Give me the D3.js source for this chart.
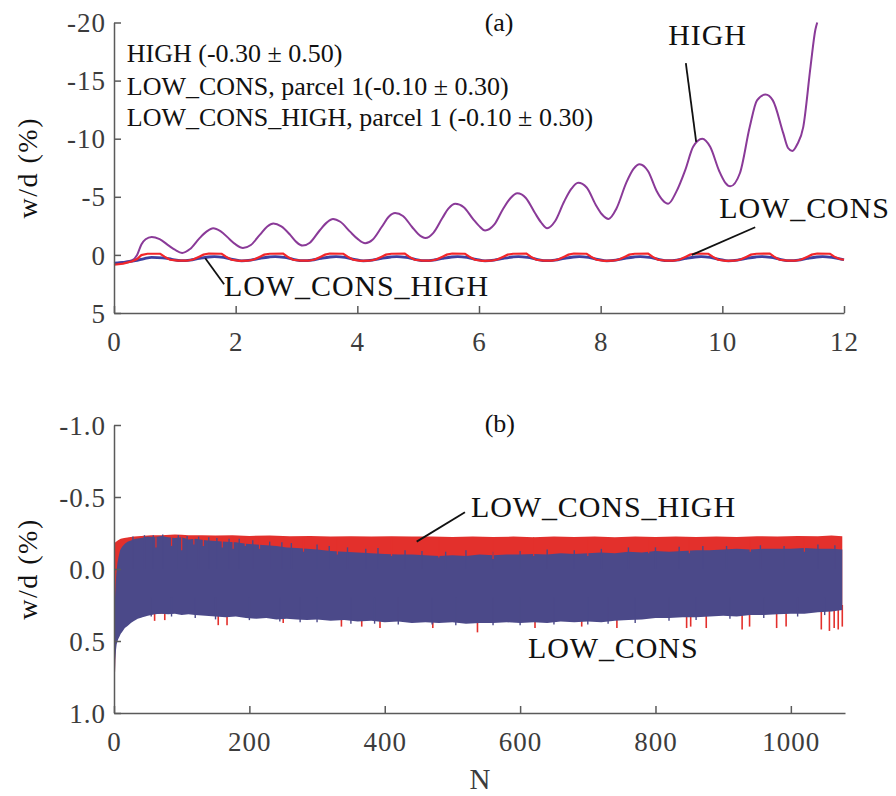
<!DOCTYPE html>
<html><head><meta charset="utf-8">
<script src="https://cdn.jsdelivr.net/npm/d3@7"></script>
<style>
body{margin:0;background:#fff}
svg{display:block}
text{font-family:"Liberation Serif","Times New Roman",Times,serif}
</style>
</head><body><svg id="c" width="896" height="796"></svg>
<script>
// ---------- Panel (a) data : x = time-like index, y = w/d (%) ----------
const aXTicks = [0, 2, 4, 6, 8, 10, 12];
const aYTicks = [-20, -15, -10, -5, 0, 5];
const high = [
[0,0.75],[0.15,0.62],[0.3,0.45],[0.38,0.0],[0.45,-0.9],[0.52,-1.35],[0.62,-1.55],[0.75,-1.35],[0.9,-0.8],[1.0,-0.45],[1.12,-0.17],
[1.25,-0.5],[1.4,-1.4],[1.52,-2.0],[1.63,-2.3],[1.75,-2.05],[1.9,-1.35],[2.0,-0.9],[2.12,-0.6],
[2.25,-0.85],[2.4,-1.75],[2.52,-2.45],[2.62,-2.7],[2.75,-2.45],[2.9,-1.7],[3.0,-1.1],[3.1,-0.8],
[3.22,-1.05],[3.38,-2.1],[3.5,-2.8],[3.6,-3.1],[3.72,-2.85],[3.88,-2.0],[4.0,-1.4],[4.13,-1.0],
[4.25,-1.3],[4.4,-2.4],[4.52,-3.3],[4.62,-3.6],[4.75,-3.35],[4.9,-2.4],[5.0,-1.8],[5.12,-1.45],
[5.25,-1.9],[5.4,-3.2],[5.5,-4.0],[5.61,-4.4],[5.75,-4.1],[5.9,-3.1],[6.0,-2.5],[6.1,-2.1],
[6.25,-2.6],[6.4,-4.0],[6.52,-4.9],[6.63,-5.3],[6.77,-4.9],[6.92,-3.6],[7.02,-2.8],[7.12,-2.3],
[7.25,-2.9],[7.4,-4.6],[7.52,-5.7],[7.63,-6.2],[7.77,-5.8],[7.92,-4.3],[8.02,-3.5],[8.13,-3.1],
[8.26,-4.0],[8.42,-6.2],[8.54,-7.4],[8.64,-7.8],[8.78,-7.2],[8.92,-5.5],[9.02,-4.7],[9.11,-4.4],
[9.24,-5.4],[9.39,-7.3],[9.52,-9.3],[9.67,-10.0],[9.8,-9.3],[9.95,-7.2],[10.05,-6.2],[10.13,-5.9],
[10.29,-7.05],[10.45,-11.0],[10.57,-13.3],[10.71,-13.8],[10.83,-13.3],[11.0,-10.5],[11.08,-9.2],[11.15,-8.95],
[11.23,-9.5],[11.33,-11.0],[11.45,-16.2],[11.53,-19.4],[11.56,-20.0]
];
const lowCons = [
[0,0.85],[0.15,0.75],[0.3,0.55],[0.38,0.35],[0.45,0.02],[0.55,-0.1],[0.76,-0.1],[0.83,0.15],[0.92,0.42],[1.05,0.5],
[1.2,0.5],[1.3,0.4],[1.4,0.15],[1.47,-0.02],[1.56,-0.12],[1.77,-0.1],[1.84,0.15],[1.93,0.42],[2.06,0.52],
[2.2,0.5],[2.3,0.4],[2.4,0.15],[2.47,-0.02],[2.56,-0.1],[2.78,-0.12],[2.85,0.15],[2.94,0.42],[3.07,0.5],
[3.2,0.5],[3.3,0.4],[3.4,0.15],[3.47,-0.02],[3.55,-0.12],[3.77,-0.1],[3.84,0.15],[3.93,0.42],[4.06,0.52],
[4.2,0.5],[4.3,0.4],[4.4,0.15],[4.47,-0.02],[4.56,-0.1],[4.78,-0.12],[4.85,0.15],[4.94,0.42],[5.07,0.5],
[5.2,0.5],[5.3,0.4],[5.4,0.15],[5.47,-0.02],[5.56,-0.12],[5.77,-0.1],[5.84,0.15],[5.93,0.42],[6.06,0.52],
[6.2,0.5],[6.3,0.4],[6.4,0.15],[6.47,-0.02],[6.56,-0.1],[6.78,-0.12],[6.85,0.15],[6.94,0.42],[7.07,0.5],
[7.2,0.5],[7.3,0.4],[7.4,0.15],[7.47,-0.02],[7.56,-0.12],[7.77,-0.1],[7.84,0.15],[7.93,0.42],[8.06,0.52],
[8.2,0.5],[8.3,0.4],[8.4,0.15],[8.47,-0.02],[8.56,-0.1],[8.78,-0.12],[8.85,0.15],[8.94,0.42],[9.07,0.5],
[9.2,0.5],[9.3,0.4],[9.4,0.15],[9.47,-0.02],[9.56,-0.12],[9.77,-0.1],[9.84,0.15],[9.93,0.42],[10.06,0.52],
[10.2,0.5],[10.3,0.4],[10.4,0.15],[10.47,-0.02],[10.56,-0.1],[10.78,-0.12],[10.85,0.15],[10.94,0.42],[11.07,0.5],
[11.2,0.5],[11.3,0.4],[11.4,0.15],[11.47,-0.02],[11.56,-0.12],[11.77,-0.1],[11.84,0.15],[11.93,0.35],[12.0,0.42]
];
const lowConsHigh = [
[0,0.7],[0.2,0.62],[0.35,0.5],[0.5,0.32],[0.62,0.22],[0.8,0.25],[0.95,0.38],[1.1,0.5],
[1.25,0.45],[1.4,0.3],[1.55,0.18],[1.65,0.15],[1.8,0.22],[1.95,0.38],[2.1,0.52],
[2.25,0.45],[2.4,0.3],[2.55,0.18],[2.65,0.14],[2.8,0.22],[2.95,0.38],[3.1,0.5],
[3.25,0.45],[3.4,0.3],[3.55,0.18],[3.65,0.15],[3.8,0.22],[3.95,0.38],[4.1,0.52],
[4.25,0.45],[4.4,0.3],[4.55,0.18],[4.65,0.14],[4.8,0.22],[4.95,0.38],[5.1,0.5],
[5.25,0.45],[5.4,0.3],[5.55,0.18],[5.65,0.15],[5.8,0.22],[5.95,0.38],[6.1,0.52],
[6.25,0.45],[6.4,0.3],[6.55,0.18],[6.65,0.14],[6.8,0.22],[6.95,0.38],[7.1,0.5],
[7.25,0.45],[7.4,0.3],[7.55,0.18],[7.65,0.15],[7.8,0.22],[7.95,0.38],[8.1,0.52],
[8.25,0.45],[8.4,0.3],[8.55,0.18],[8.65,0.14],[8.8,0.22],[8.95,0.38],[9.1,0.5],
[9.25,0.45],[9.4,0.3],[9.55,0.18],[9.65,0.15],[9.8,0.22],[9.95,0.38],[10.1,0.52],
[10.25,0.45],[10.4,0.3],[10.55,0.18],[10.65,0.14],[10.8,0.22],[10.95,0.38],[11.1,0.5],
[11.25,0.45],[11.4,0.3],[11.55,0.18],[11.65,0.15],[11.8,0.22],[11.95,0.36],[12.0,0.42]
];
const aNotes = ["HIGH (-0.30 \u00b1 0.50)", "LOW_CONS, parcel 1(-0.10 \u00b1 0.30)", "LOW_CONS_HIGH, parcel 1 (-0.10 \u00b1 0.30)"];

// ---------- Panel (b) data : x = N, y = w/d (%) envelopes of dense oscillation ----------
const bXTicks = [0, 200, 400, 600, 800, 1000];
const bYTicks = [-1.0, -0.5, 0.0, 0.5, 1.0];
const redTop = [[0,-0.17],[1,-0.18],[3,-0.19],[6,-0.2],[10,-0.21],[15,-0.215],[22,-0.22],[30,-0.225],[40,-0.23],[55,-0.235],[70,-0.235],[90,-0.24],[110,-0.235],[130,-0.235],[150,-0.232],[175,-0.235],[200,-0.23],[230,-0.232],[260,-0.228],[290,-0.23],[320,-0.225],[350,-0.228],[380,-0.225],[410,-0.228],[440,-0.225],[470,-0.225],[500,-0.222],[530,-0.225],[560,-0.222],[590,-0.225],[620,-0.22],[650,-0.225],[680,-0.222],[710,-0.225],[740,-0.22],[770,-0.225],[800,-0.222],[830,-0.225],[860,-0.222],[890,-0.225],[920,-0.222],[950,-0.228],[980,-0.225],[1010,-0.23],[1040,-0.228],[1060,-0.232],[1076,-0.228]];
const redBot = [[0,1.0],[0.5,0.98],[1,0.9],[1.5,0.72],[2,0.6],[3,0.52],[5,0.46],[10,0.42],[20,0.37],[40,0.32],[100,0.3],[1076,0.27]];
const blueTop = [[0.5,0.30],[1.5,0.20],[2.5,0.10],[3.5,0.03],[5,-0.04],[6.5,-0.08],[9,-0.13],[12,-0.155],[16,-0.175],[20,-0.19],[26,-0.20],[32,-0.21],[40,-0.215],[50,-0.225],[60,-0.22],[70,-0.23],[80,-0.22],[90,-0.215],[100,-0.22],[110,-0.205],[120,-0.21],[135,-0.2],[150,-0.195],[165,-0.19],[180,-0.185],[195,-0.175],[210,-0.17],[225,-0.165],[240,-0.16],[255,-0.15],[270,-0.145],[285,-0.14],[300,-0.135],[320,-0.125],[340,-0.12],[360,-0.115],[380,-0.11],[400,-0.105],[420,-0.1],[440,-0.1],[460,-0.095],[480,-0.09],[500,-0.095],[520,-0.09],[540,-0.1],[560,-0.095],[580,-0.1],[600,-0.1],[620,-0.105],[640,-0.1],[660,-0.11],[680,-0.105],[700,-0.11],[720,-0.115],[740,-0.11],[760,-0.12],[780,-0.115],[800,-0.125],[820,-0.12],[840,-0.125],[860,-0.13],[880,-0.13],[900,-0.135],[920,-0.14],[940,-0.135],[960,-0.14],[980,-0.14],[1000,-0.14],[1020,-0.145],[1040,-0.14],[1060,-0.14],[1076,-0.135]];
const blueBot = [[0.5,0.86],[1,0.84],[1.5,0.72],[2,0.63],[3,0.56],[4,0.52],[6,0.49],[8,0.47],[10,0.45],[13,0.43],[16,0.41],[20,0.395],[25,0.375],[30,0.36],[35,0.345],[42,0.335],[50,0.325],[60,0.315],[70,0.31],[80,0.315],[90,0.31],[100,0.32],[110,0.315],[120,0.32],[135,0.325],[150,0.33],[165,0.335],[180,0.33],[195,0.34],[210,0.345],[225,0.34],[240,0.35],[255,0.345],[270,0.35],[285,0.355],[300,0.35],[320,0.36],[340,0.355],[360,0.365],[380,0.36],[400,0.37],[420,0.365],[440,0.375],[460,0.37],[480,0.375],[500,0.37],[520,0.38],[540,0.375],[560,0.375],[580,0.37],[600,0.375],[620,0.37],[640,0.375],[660,0.365],[680,0.37],[700,0.365],[720,0.37],[740,0.36],[760,0.355],[780,0.35],[800,0.34],[820,0.34],[840,0.335],[860,0.335],[880,0.33],[900,0.325],[920,0.33],[940,0.32],[960,0.32],[980,0.315],[1000,0.31],[1020,0.31],[1040,0.3],[1060,0.295],[1076,0.285]];
// isolated excursions of the oscillation beyond the envelopes
const redLowSpikes = [[60,0.36],[75,0.355],[154,0.39],[167,0.39],[250,0.375],[336,0.40],[366,0.40],[393,0.41],[471,0.41],[537,0.44],[622,0.41],[691,0.40],[743,0.41],[846,0.41],[852,0.40],[875,0.41],[928,0.42],[939,0.40],[979,0.41],[993,0.40],[1045,0.42],[1057,0.43],[1064,0.41],[1070,0.42],[1076,0.40]];
const redDips = [[62,-0.15],[85,-0.16],[100,-0.13],[118,-0.17],[132,-0.16],[160,-0.15],[176,-0.14],[194,-0.16],[215,-0.14],[280,-0.12],[330,-0.1],[410,-0.09],[480,-0.08],[560,-0.07],[620,-0.09],[700,-0.09],[790,-0.11],[850,-0.11],[940,-0.12],[1020,-0.12]];
const blueHighSpikes = [[28,-0.225],[45,-0.235],[58,-0.235],[72,-0.24],[95,-0.235],[108,-0.23],[125,-0.225],[140,-0.22],[152,-0.215],[170,-0.21],[185,-0.21],[205,-0.2],[230,-0.19],[248,-0.185],[262,-0.18],[300,-0.17],[318,-0.16],[345,-0.15],[372,-0.14],[390,-0.145],[430,-0.13],[455,-0.125],[490,-0.12],[520,-0.13],[560,-0.12],[600,-0.125],[640,-0.135],[680,-0.13],[720,-0.14],[760,-0.15],[800,-0.15],[835,-0.155],[870,-0.16],[905,-0.16],[955,-0.165],[990,-0.16],[1040,-0.17],[1065,-0.165]];
const blueLowSpikes = [[55,0.33],[85,0.33],[120,0.34],[150,0.35],[200,0.355],[245,0.365],[275,0.37],[300,0.37],[350,0.38],[385,0.38],[420,0.385],[470,0.385],[505,0.39],[560,0.39],[600,0.39],[650,0.385],[700,0.385],[730,0.38],[770,0.375],[820,0.36],[860,0.355],[910,0.345],[960,0.34],[1010,0.33],[1050,0.32]];

// ---------- scales ----------
const svg = d3.select("#c");
const xA = d3.scaleLinear().domain([0, 12]).range([114, 844]);
const yA = d3.scaleLinear().domain([5, -20]).range([313, 22.5]);
const xB = d3.scaleLinear().domain([0, 1080]).range([114, 845]);
const yB = d3.scaleLinear().domain([1, -1]).range([713, 425]);

const FONT = '"Liberation Serif","Times New Roman",Times,serif';
const C = {purple:"#8a3a98", redA:"#f2262a", blueA:"#3f3fa0", redB:"#e3302c", blueB:"#4b4989", axis:"#5a5a5a", tick:"#3c3c3c", ink:"#111"};

// ---------- panel (a) ----------
const gA = svg.append("g");
const lineA = d3.line().x(d => xA(d[0])).y(d => yA(d[1])).curve(d3.curveMonotoneX);
gA.append("path").datum(high).attr("d", lineA).attr("fill","none").attr("stroke",C.purple).attr("stroke-width",2);
gA.append("path").datum(lowConsHigh).attr("d", lineA).attr("fill","none").attr("stroke",C.blueA).attr("stroke-width",2.8);
gA.append("path").datum(lowCons).attr("d", d3.line().x(d => xA(d[0])).y(d => yA(d[1]))).attr("fill","none").attr("stroke",C.redA).attr("stroke-width",2.2);

function styleAxis(g){
  g.attr("font-family", FONT);
  g.select(".domain").attr("stroke", C.axis).attr("stroke-width", 1.5);
  g.selectAll(".tick line").attr("stroke", C.axis).attr("stroke-width", 1.5);
  g.selectAll(".tick text").attr("fill", C.tick).attr("font-size", 27).style("letter-spacing","1px");
}
const axAL = gA.append("g").attr("transform", `translate(${xA(0)},0)`)
  .call(d3.axisLeft(yA).tickValues(aYTicks).tickSizeInner(-7).tickSizeOuter(0).tickPadding(8).tickFormat(d => String(d)));
styleAxis(axAL);
axAL.selectAll(".tick text").attr("dy","0.34em");
const axAB = gA.append("g").attr("transform", `translate(0,${yA(5)})`)
  .call(d3.axisBottom(xA).tickValues(aXTicks).tickSizeInner(-7).tickSizeOuter(0).tickPadding(19).tickFormat(d => String(d)));
styleAxis(axAB);

gA.append("text").attr("transform", `translate(37,${(yA(5)+yA(-20))/2}) rotate(-90)`).attr("text-anchor","middle")
  .attr("font-size",28).style("letter-spacing","1.5px").attr("fill",C.ink).text("w/d (%)");
gA.append("text").attr("x", xA(6.33)).attr("y", yA(-19.28)).attr("text-anchor","middle").attr("font-size",26).attr("fill",C.ink).text("(a)");
const noteY = [-16.6, -13.77, -11.1];
aNotes.forEach((t,i) => gA.append("text").attr("x", xA(0.21)).attr("y", yA(noteY[i])).attr("font-size",26).attr("fill",C.ink).text(t));

// labels with leader lines (data coords)
const aLabels = [
  {t:"HIGH", x:9.11, y:-18.07, l:[[9.40,-16.5],[9.57,-9.72]]},
  {t:"LOW_CONS", x:9.95, y:-3.18, l:[[10.54,-2.38],[9.50,0.0]]},
  {t:"LOW_CONS_HIGH", x:1.81, y:3.53, l:[[1.50,0.28],[1.81,2.52]]}
];
aLabels.forEach(o => {
  gA.append("line").attr("x1",xA(o.l[0][0])).attr("y1",yA(o.l[0][1])).attr("x2",xA(o.l[1][0])).attr("y2",yA(o.l[1][1]))
    .attr("stroke",C.ink).attr("stroke-width",1.8);
  gA.append("text").attr("x",xA(o.x)).attr("y",yA(o.y)).attr("font-size",30).style("letter-spacing","0.9px").attr("fill",C.ink).text(o.t);
});

// ---------- panel (b) ----------
const gB = svg.append("g");
const area = (top, bot) => {
  const xs = Array.from(new Set(top.map(d=>d[0]).concat(bot.map(d=>d[0])))).sort((a,b)=>a-b)
    .filter(x => x >= Math.max(top[0][0], bot[0][0]) && x <= Math.min(top[top.length-1][0], bot[bot.length-1][0]));
  const interp = (arr, x) => { let i = d3.bisector(d=>d[0]).left(arr, x); if (i<=0) return arr[0][1]; if (i>=arr.length) return arr[arr.length-1][1];
    const a = arr[i-1], b = arr[i]; return a[1] + (b[1]-a[1])*(x-a[0])/(b[0]-a[0]); };
  return xs.map(x => ({x, t: interp(top,x), b: interp(bot,x)}));
};
const areaGen = d3.area().x(d => xB(d.x)).y0(d => yB(d.b)).y1(d => yB(d.t));
gB.append("path").datum(area(redTop, redBot)).attr("d", areaGen).attr("fill", C.redB);
gB.selectAll(".rs").data(redLowSpikes).join("line")
  .attr("x1", d=>xB(d[0])).attr("x2", d=>xB(d[0])).attr("y1", yB(0.25)).attr("y2", d=>yB(d[1]))
  .attr("stroke", C.redB).attr("stroke-width", 1.6);
gB.append("path").datum(area(blueTop, blueBot)).attr("d", areaGen).attr("fill", C.blueB);
gB.selectAll(".bs").data(blueHighSpikes).join("line")
  .attr("x1", d=>xB(d[0])).attr("x2", d=>xB(d[0])).attr("y1", yB(0)).attr("y2", d=>yB(d[1]))
  .attr("stroke", C.blueB).attr("stroke-width", 1.4);
gB.selectAll(".bl").data(blueLowSpikes).join("line")
  .attr("x1", d=>xB(d[0])).attr("x2", d=>xB(d[0])).attr("y1", yB(0.2)).attr("y2", d=>yB(d[1]))
  .attr("stroke", C.blueB).attr("stroke-width", 1.4);
gB.selectAll(".rd").data(redDips).join("line")
  .attr("x1", d=>xB(d[0])).attr("x2", d=>xB(d[0])).attr("y1", yB(-0.22)).attr("y2", d=>yB(d[1]))
  .attr("stroke", C.redB).attr("stroke-width", 1.2);

const axBL = gB.append("g").attr("transform", `translate(${xB(0)},0)`)
  .call(d3.axisLeft(yB).tickValues(bYTicks).tickSizeInner(-7).tickSizeOuter(0).tickPadding(8).tickFormat(d => d.toFixed(1)));
styleAxis(axBL);
axBL.selectAll(".tick text").attr("dy","0.34em");
const axBB = gB.append("g").attr("transform", `translate(0,${yB(1)})`)
  .call(d3.axisBottom(xB).tickValues(bXTicks).tickSizeInner(-7).tickSizeOuter(0).tickPadding(19).tickFormat(d => String(d)));
styleAxis(axBB);

gB.append("text").attr("transform", `translate(37,${(yB(1)+yB(-1))/2}) rotate(-90)`).attr("text-anchor","middle")
  .attr("font-size",28).style("letter-spacing","1.5px").attr("fill",C.ink).text("w/d (%)");
gB.append("text").attr("x", xB(570)).attr("y", yB(-0.951)).attr("text-anchor","middle").attr("font-size",26).attr("fill",C.ink).text("(b)");
gB.append("text").attr("x", xB(527.4)).attr("y", yB(-0.361)).attr("font-size",30).style("letter-spacing","0.9px").attr("fill",C.ink).text("LOW_CONS_HIGH");
gB.append("line").attr("x1", xB(518.5)).attr("y1", yB(-0.394)).attr("x2", xB(447.2)).attr("y2", yB(-0.19)).attr("stroke",C.ink).attr("stroke-width",1.8);
gB.append("text").attr("x", xB(611.6)).attr("y", yB(0.618)).attr("font-size",30).style("letter-spacing","0.9px").attr("fill",C.ink).text("LOW_CONS");
gB.append("text").attr("x", 480).attr("y", 789).attr("text-anchor","middle").attr("font-size",29).attr("fill",C.tick).text("N");
</script>
</body></html>
